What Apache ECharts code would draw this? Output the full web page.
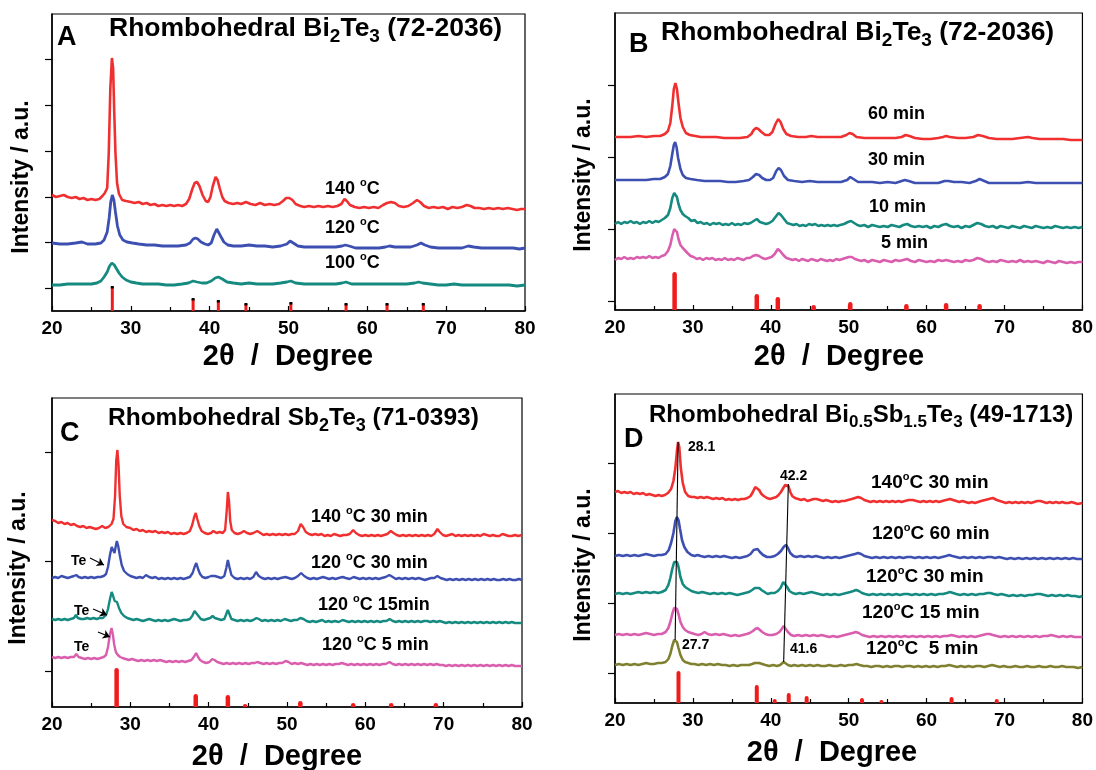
<!DOCTYPE html>
<html>
<head>
<meta charset="utf-8">
<script src="https://cdn.jsdelivr.net/npm/echarts@6/dist/echarts.min.js"></script>
<style>
html, body { margin: 0; background: #fff; }
#chart { width: 1096px; height: 770px; }
</style>
</head>
<body>
<div id="chart"></div>
<script>
// ---- Panel A: Bi2Te3 at 100/120/140 °C (intensity, a.u.) ----
const aRed = [[20,93],[20.5,91],[21,92],[21.5,93],[22,91],[22.5,90],[23,91],[23.5,89],[24,90],[24.5,88],[25,89],[25.5,88],[26,89],[26.4,92],[26.7,95],[27,100],[27.2,135],[27.4,200],[27.6,230],[27.75,220],[27.9,175],[28.05,135],[28.25,105],[28.5,94],[28.9,88],[29.4,87],[30,86],[30.5,85],[31,86],[31.5,84],[32,85],[32.5,83],[33,84],[33.5,82],[34,83],[34.5,82],[35,83],[35.5,82],[36,83],[36.5,82],[37,84],[37.4,89],[37.8,99],[38.1,105],[38.4,106],[38.7,102],[39.1,93],[39.5,87],[39.8,86],[40.1,91],[40.4,102],[40.75,111],[41,108],[41.3,99],[41.6,91],[41.9,87],[42.4,85],[43,84],[43.5,85],[44,84],[44.6,86],[45.2,84],[45.8,83],[46.4,85],[47,83],[47.6,84],[48.2,83],[48.8,84],[49.3,87],[49.7,90],[50.1,90],[50.5,88],[50.9,84],[51.5,82],[52,81],[52.6,82],[53.2,81],[53.8,82],[54.4,81],[55,82],[55.6,81],[56.2,82],[56.7,84],[57.1,89],[57.4,87],[57.8,83],[58.4,81],[59,80],[59.6,81],[60.2,80],[60.8,81],[61.4,80],[62,83],[62.5,85],[63,86],[63.5,85],[64,82],[64.6,81],[65.2,82],[65.8,85],[66.3,88],[66.7,86],[67.2,82],[67.8,80],[68.4,81],[69,80],[69.6,81],[70.2,79],[70.8,81],[71.4,80],[72,81],[72.6,83],[73.1,82],[73.6,80],[74.2,80],[74.8,79],[75.4,80],[76,79],[76.6,80],[77.2,79],[77.8,80],[78.4,79],[79,78],[79.5,79],[80,79]];
const aBlue = [[20,45],[21,44],[22,44],[23,45],[23.8,46],[24.5,44],[25.5,44],[26.2,45],[26.6,48],[27,56],[27.25,70],[27.45,86],[27.65,93],[27.85,88],[28.05,76],[28.3,62],[28.6,53],[29,48],[29.5,46],[30.2,45],[31,44],[32,43],[33,43],[34,42],[35,42],[36,42],[37,43],[37.5,45],[37.9,49],[38.2,50],[38.5,49],[38.9,46],[39.4,44],[39.8,43],[40.2,45],[40.55,53],[40.9,59],[41.15,57],[41.45,51],[41.8,46],[42.3,43],[43,42],[44,42],[45,43],[46,42],[47,42],[48,41],[49,42],[49.8,44],[50.2,47],[50.6,45],[51.2,42],[52,41],[53,41],[54,41],[55,41],[56,41],[56.8,42],[57.2,43],[57.7,42],[58.5,40],[59.5,40],[60.5,40],[61.5,40],[62.3,41],[62.8,42],[63.5,41],[64.5,41],[65.5,41],[66.3,43],[66.8,45],[67.3,43],[68,41],[69,40],[70,40],[71,40],[72,40],[72.8,42],[73.5,41],[74.5,40],[75.5,40],[76.5,40],[77.5,40],[78.5,40],[79.3,39],[80,40]];
const aTeal = [[20,3],[21,3],[22,4],[23,4],[24,4],[25,4],[25.7,5],[26.2,7],[26.6,11],[27,16],[27.3,22],[27.6,25],[27.9,23],[28.2,19],[28.5,15],[28.9,11],[29.4,8],[30,6],[30.7,5],[31.5,4],[32.5,4],[33.5,4],[34.5,3],[35.5,3],[36.5,4],[37.3,5],[37.9,7],[38.4,6],[39,5],[39.6,5],[40.2,7],[40.7,10],[41.1,11],[41.6,9],[42.2,6],[43,5],[44,4],[45,5],[46,4],[47,4],[48,4],[49,5],[49.8,6],[50.3,7],[50.9,5],[52,4],[53,4],[54,4],[55,4],[56,4],[56.8,5],[57.3,6],[58,4],[59,4],[60,4],[61,4],[62,4],[63,4],[64,4],[65,4],[66,5],[66.5,6],[67,5],[68,4],[69,3],[70,3],[71,4],[72,3],[73,3],[74,3],[75,3],[76,3],[77,3],[78,3],[79,2],[80,3]];
const aStickPos = [27.65, 37.9, 41.1, 44.6, 50.3, 57.3, 62.5, 67.1];
const aStickTop = [1, -11, -13, -16, -15, -16, -16, -16];

// ---- Panel B: Bi2Te3 for 5/10/30/60 min ----
const bRed = [[20,164],[21,164],[22,164],[23,165],[24,164],[25,165],[25.8,165],[26.4,167],[26.8,170],[27.1,178],[27.35,195],[27.55,212],[27.75,218],[27.95,212],[28.15,198],[28.4,183],[28.7,174],[29.1,168],[29.6,166],[30.3,165],[31,164],[32,164],[33,164],[34,163],[35,163],[36,163],[37,164],[37.5,167],[37.8,171],[38.1,173],[38.4,172],[38.8,169],[39.3,166],[39.8,166],[40.2,169],[40.6,177],[40.95,182],[41.25,179],[41.6,172],[42,167],[42.6,165],[43.5,164],[44.5,164],[45.2,165],[46,164],[47,164],[48,164],[49,164],[49.7,166],[50.1,168],[50.5,167],[51,164],[52,163],[53,163],[54,163],[55,163],[56,163],[56.8,164],[57.3,166],[57.8,165],[58.5,163],[59.5,162],[60.5,162],[61.5,163],[62.1,164],[62.5,165],[63,164],[64,163],[65,163],[66,164],[66.6,166],[67.2,165],[68,163],[69,162],[70,162],[71,162],[72,163],[73,164],[73.6,163],[74.5,162],[75.5,162],[76.5,162],[77.5,162],[78.5,161],[79.3,161],[80,161]];
const bBlue = [[20,121],[21,121],[22,121],[23,121],[24,121],[25,122],[25.8,122],[26.4,124],[26.8,127],[27.1,135],[27.35,147],[27.55,156],[27.72,159],[27.9,154],[28.1,143],[28.4,132],[28.7,126],[29.1,123],[29.7,122],[30.5,121],[31.5,120],[32.5,120],[33.5,120],[34.5,119],[35.5,119],[36.5,120],[37.2,121],[37.7,124],[38.1,127],[38.5,126],[38.9,123],[39.4,121],[39.9,121],[40.3,123],[40.7,130],[41,133],[41.3,131],[41.7,125],[42.2,121],[43,120],[44,119],[45,120],[46,119],[47,119],[48,119],[49,119],[49.8,121],[50.2,124],[50.6,122],[51.2,119],[52,119],[53,119],[54,118],[55,119],[56,118],[56.8,120],[57.2,121],[57.7,120],[58.5,118],[59.5,118],[60.5,118],[61.5,118],[62.3,120],[62.8,120],[63.5,119],[64.5,119],[65.5,118],[66.3,120],[66.8,122],[67.4,120],[68,118],[69,118],[70,118],[71,118],[72,118],[73,119],[74,118],[75,118],[76,118],[77,118],[78,118],[79,118],[80,118]];
const bTeal = [[20,77],[20.4,79],[20.8,77],[21.2,79],[21.6,78],[22,80],[22.4,78],[22.8,79],[23.2,77],[23.6,79],[24,78],[24.4,80],[24.8,78],[25.2,80],[25.6,79],[26,81],[26.4,83],[26.8,86],[27.1,93],[27.35,103],[27.6,108],[27.78,109],[27.95,104],[28.15,97],[28.4,91],[28.7,87],[29,85],[29.4,83],[29.8,80],[30.2,81],[30.6,78],[31,79],[31.4,77],[31.8,78],[32.2,76],[32.6,78],[33,77],[33.4,78],[33.8,76],[34.2,77],[34.6,76],[35,78],[35.4,76],[35.8,77],[36.2,76],[36.6,78],[37,77],[37.4,78],[37.8,80],[38.2,82],[38.6,79],[39,78],[39.4,77],[39.8,78],[40.2,80],[40.6,84],[41,88],[41.3,86],[41.7,82],[42.1,78],[42.5,77],[42.9,76],[43.3,77],[43.7,75],[44.1,76],[44.5,75],[44.9,77],[45.3,76],[45.7,77],[46.1,75],[46.5,76],[46.9,75],[47.3,76],[47.7,75],[48.1,76],[48.5,75],[48.9,76],[49.4,77],[49.9,79],[50.3,80],[50.7,78],[51.1,76],[51.5,75],[52,76],[52.5,74],[53,76],[53.5,75],[54,74],[54.5,75],[55,74],[55.5,76],[56,75],[56.5,74],[57,76],[57.5,77],[58,75],[58.5,74],[59,75],[59.5,74],[60,75],[60.5,73],[61,75],[61.5,74],[62,76],[62.5,77],[63,75],[63.5,74],[64,75],[64.5,73],[65,75],[65.5,74],[66,76],[66.5,78],[67,77],[67.5,75],[68,74],[68.5,75],[69,73],[69.5,75],[70,74],[70.5,73],[71,75],[71.5,74],[72,73],[72.5,75],[73,74],[73.5,73],[74,75],[74.5,74],[75,73],[75.5,74],[76,73],[76.5,75],[77,74],[77.5,73],[78,74],[78.5,73],[79,74],[79.5,73],[80,74]];
const bPink = [[20,41],[20.4,43],[20.8,42],[21.2,44],[21.6,42],[22,43],[22.4,42],[22.8,44],[23.2,43],[23.6,44],[24,43],[24.4,45],[24.8,43],[25.2,44],[25.6,43],[26,45],[26.4,46],[26.8,50],[27.1,56],[27.35,65],[27.6,72],[27.78,73],[27.95,69],[28.15,62],[28.4,56],[28.7,53],[28.95,52],[29.3,48],[29.7,45],[30.1,44],[30.5,42],[30.9,43],[31.3,41],[31.7,43],[32.1,42],[32.5,43],[32.9,41],[33.3,42],[33.7,41],[34.1,43],[34.5,41],[34.9,42],[35.3,41],[35.7,43],[36.1,42],[36.5,41],[36.9,43],[37.3,43],[37.7,45],[38.1,46],[38.5,45],[38.9,43],[39.3,42],[39.7,43],[40.1,44],[40.5,47],[40.9,52],[41.2,50],[41.6,46],[42,43],[42.4,42],[42.8,41],[43.2,42],[43.6,40],[44,42],[44.4,41],[44.8,40],[45.2,42],[45.6,41],[46,40],[46.4,42],[46.8,41],[47.2,40],[47.6,41],[48,40],[48.4,42],[48.8,41],[49.2,42],[49.6,43],[50,44],[50.4,44],[50.8,42],[51.2,41],[51.6,40],[52,41],[52.5,39],[53,41],[53.5,40],[54,39],[54.5,41],[55,40],[55.5,39],[56,41],[56.5,40],[57,41],[57.5,42],[58,40],[58.5,39],[59,41],[59.5,40],[60,39],[60.5,40],[61,39],[61.5,41],[62,40],[62.5,41],[63,40],[63.5,39],[64,40],[64.5,39],[65,41],[65.5,40],[66,41],[66.5,43],[67,42],[67.5,40],[68,39],[68.5,40],[69,39],[69.5,41],[70,40],[70.5,39],[71,40],[71.5,39],[72,41],[72.5,39],[73,40],[73.5,39],[74,40],[74.5,39],[75,38],[75.5,40],[76,39],[76.5,38],[77,40],[77.5,39],[78,38],[78.5,39],[79,38],[79.5,39],[80,39]];
const bStickPos = [27.65, 38.2, 40.9, 45.5, 50.2, 57.4, 62.5, 66.8];
const bStickTop = [29, 7, 4, -4, -1, -3, -2, -3];

// ---- Panel C: Sb2Te3 ----
const cRed = [[20,151],[20.4,150],[20.8,148],[21.2,149],[21.6,147],[22,148],[22.4,146],[22.8,147],[23.2,145],[23.6,144],[24,145],[24.4,143],[24.8,144],[25.2,143],[25.6,142],[26,143],[26.4,145],[26.8,143],[27.2,144],[27.6,147],[27.85,152],[28.05,175],[28.2,210],[28.35,221],[28.5,205],[28.65,175],[28.85,155],[29.1,147],[29.5,144],[30,143],[30.4,141],[30.8,142],[31.2,140],[31.6,141],[32,139],[32.4,140],[32.8,139],[33.2,140],[33.6,138],[34,139],[34.4,138],[34.8,139],[35.2,137],[35.6,138],[36,137],[36.4,138],[36.8,137],[37.2,138],[37.6,140],[37.9,146],[38.15,154],[38.35,158],[38.55,152],[38.8,145],[39.1,140],[39.5,138],[39.9,137],[40.3,138],[40.6,140],[41,138],[41.4,139],[41.8,138],[42.1,141],[42.3,160],[42.45,179],[42.6,170],[42.75,150],[42.95,141],[43.3,138],[43.7,137],[44.1,138],[44.5,140],[44.9,138],[45.3,137],[45.7,138],[46.2,140],[46.6,138],[47,136],[47.4,137],[47.8,136],[48.2,137],[48.6,136],[49,137],[49.4,136],[49.8,137],[50.2,136],[50.6,137],[51,137],[51.4,140],[51.75,147],[52.05,144],[52.4,139],[52.8,137],[53.2,136],[53.6,137],[54,136],[54.4,137],[54.8,135],[55.2,136],[55.6,135],[56,137],[56.4,136],[56.8,135],[57.2,136],[57.6,136],[58,137],[58.45,141],[58.8,138],[59.2,136],[59.6,135],[60,136],[60.4,135],[60.8,136],[61.2,135],[61.6,136],[62,135],[62.4,136],[62.8,137],[63.25,140],[63.6,138],[64,136],[64.4,135],[64.8,136],[65.2,135],[65.6,136],[66,135],[66.4,136],[66.8,135],[67.2,136],[67.6,135],[68,136],[68.4,135],[68.8,137],[69.2,142],[69.5,139],[69.9,136],[70.3,135],[70.7,136],[71.1,137],[71.5,135],[71.9,136],[72.3,135],[72.7,136],[73.1,135],[73.5,136],[73.9,135],[74.3,136],[74.7,135],[75.1,137],[75.5,136],[75.9,135],[76.3,136],[76.7,135],[77.1,135],[77.5,137],[77.9,136],[78.3,135],[78.7,135],[79.1,136],[79.5,135],[80,136]];
const cBlue = [[20,93],[20.4,94],[20.8,93],[21.2,95],[21.6,94],[22,93],[22.4,94],[22.8,95],[23.1,96],[23.4,94],[23.8,93],[24.2,94],[24.6,93],[25,94],[25.4,93],[25.8,94],[26.2,94],[26.6,95],[26.9,97],[27.15,104],[27.4,116],[27.62,124],[27.8,121],[27.98,118],[28.12,124],[28.28,130],[28.45,125],[28.65,116],[28.9,106],[29.2,100],[29.6,97],[30,95],[30.4,94],[30.8,93],[31.2,94],[31.6,93],[32,96],[32.4,94],[32.8,93],[33.2,94],[33.6,92],[34,93],[34.4,92],[34.8,93],[35.2,92],[35.6,93],[36,92],[36.4,93],[36.8,92],[37.2,93],[37.6,94],[37.95,98],[38.2,104],[38.42,108],[38.65,102],[38.9,97],[39.2,94],[39.6,93],[40,94],[40.3,95],[40.55,97],[40.8,95],[41.2,94],[41.6,93],[42,95],[42.25,103],[42.45,111],[42.65,104],[42.9,96],[43.3,93],[43.7,92],[44.1,93],[44.5,92],[44.9,93],[45.3,92],[45.7,94],[46.05,99],[46.4,95],[46.8,93],[47.2,92],[47.6,93],[48,92],[48.4,93],[48.8,92],[49.2,93],[49.8,94],[50.2,93],[50.6,92],[51,93],[51.4,95],[51.8,98],[52.2,95],[52.6,93],[53,92],[53.4,93],[53.8,92],[54.2,93],[54.6,94],[55,93],[55.4,92],[55.8,93],[56.2,92],[56.6,93],[57.1,94],[57.5,93],[58,92],[58.5,94],[58.9,93],[59.3,92],[59.7,93],[60.1,92],[60.5,93],[60.9,92],[61.3,93],[61.7,92],[62.1,93],[62.6,94],[63.07,96],[63.5,94],[63.9,92],[64.3,93],[64.7,92],[65.1,93],[65.5,92],[66,93],[66.4,92],[66.8,93],[67.2,92],[67.6,91],[68,92],[68.4,93],[68.8,93],[69.2,95],[69.6,93],[70,92],[70.4,91],[70.8,92],[71.2,91],[71.6,92],[72,91],[72.4,92],[72.8,91],[73.2,92],[73.6,91],[74,92],[74.4,91],[74.8,92],[75.2,91],[75.6,92],[76,91],[76.4,92],[76.8,91],[77.2,91],[77.6,92],[78,91],[78.4,92],[78.8,91],[79.2,91],[79.6,92],[80,91]];
const cTeal = [[20,52],[20.4,51],[20.8,52],[21.2,51],[21.6,52],[22,51],[22.4,52],[22.8,53],[23.05,56],[23.3,53],[23.7,52],[24.1,52],[24.5,53],[24.9,52],[25.3,53],[25.7,52],[26.1,53],[26.5,53],[26.9,56],[27.15,62],[27.4,72],[27.62,79],[27.8,75],[28,70],[28.15,71],[28.3,69],[28.55,63],[28.85,58],[29.2,55],[29.6,53],[30,52],[30.4,51],[30.8,52],[31.2,51],[31.6,50],[32,51],[32.4,52],[32.8,51],[33.2,50],[33.6,51],[34,50],[34.4,51],[34.8,50],[35.2,51],[35.6,52],[36,51],[36.4,50],[36.8,51],[37.2,51],[37.6,52],[37.9,55],[38.2,60],[38.4,59],[38.7,55],[39,52],[39.4,51],[39.8,52],[40.2,53],[40.5,55],[40.8,53],[41.2,52],[41.6,51],[42,52],[42.25,57],[42.45,61],[42.65,57],[42.9,52],[43.3,51],[43.7,50],[44.1,51],[44.5,50],[44.9,51],[45.3,50],[45.7,51],[46.1,53],[46.4,52],[46.8,50],[47.2,51],[47.6,50],[48,51],[48.4,50],[48.8,51],[49.2,50],[49.7,52],[50.1,51],[50.5,50],[50.9,51],[51.3,51],[51.7,53],[52.1,52],[52.5,50],[52.9,49],[53.3,50],[53.7,49],[54.1,50],[54.5,51],[54.9,49],[55.3,50],[55.7,49],[56.1,50],[56.6,49],[57.1,51],[57.5,50],[57.9,49],[58.3,50],[58.7,49],[59.1,50],[59.5,49],[59.9,50],[60.3,49],[60.7,50],[61.1,49],[61.5,50],[61.9,49],[62.3,50],[62.7,50],[63.1,52],[63.5,50],[63.9,49],[64.3,50],[64.7,49],[65.1,50],[65.5,49],[65.9,50],[66.3,49],[66.7,50],[67.1,49],[67.5,50],[67.9,50],[68.3,49],[68.7,50],[69.1,49],[69.5,50],[69.9,49],[70.3,48],[70.7,49],[71.1,48],[71.5,49],[71.9,48],[72.3,49],[72.7,48],[73.1,49],[73.5,48],[73.9,49],[74.3,48],[74.7,49],[75.1,48],[75.5,49],[75.9,48],[76.3,49],[76.7,48],[77.1,49],[77.5,48],[77.9,49],[78.3,48],[78.7,49],[79.1,48],[79.5,48],[80,48]];
const cPink = [[20,14],[20.4,13],[20.8,14],[21.2,13],[21.6,14],[22,13],[22.4,14],[22.8,14],[23.1,17],[23.4,14],[23.8,13],[24.2,12],[24.6,13],[25,12],[25.4,13],[25.8,12],[26.2,13],[26.6,14],[26.9,16],[27.15,24],[27.4,37],[27.6,43],[27.78,36],[27.95,26],[28.15,19],[28.4,16],[28.7,14],[29,13],[29.4,12],[29.8,11],[30.2,12],[30.6,11],[31,10],[31.4,11],[31.8,10],[32.2,11],[32.6,10],[33,11],[33.4,10],[33.8,11],[34.2,10],[34.6,9],[35,10],[35.4,9],[35.8,10],[36.2,9],[36.6,10],[37,9],[37.4,10],[37.8,11],[38.1,14],[38.4,18],[38.65,14],[38.9,11],[39.3,9],[39.7,8],[40.1,9],[40.45,12],[40.75,11],[41.1,9],[41.5,8],[41.9,7],[42.3,8],[42.7,7],[43.1,8],[43.5,7],[43.9,8],[44.3,7],[44.7,8],[45.1,7],[45.5,8],[45.9,8],[46.2,9],[46.6,8],[47,7],[47.4,8],[47.8,7],[48.2,8],[48.6,7],[49,8],[49.4,8],[49.8,10],[50.2,9],[50.6,7],[51,8],[51.4,7],[51.8,8],[52.2,7],[52.6,6],[53,7],[53.4,6],[53.8,7],[54.2,6],[54.6,7],[55,6],[55.4,7],[55.8,6],[56.2,7],[56.6,7],[57,8],[57.4,7],[57.8,6],[58.2,7],[58.6,6],[59,7],[59.4,6],[59.8,7],[60.2,6],[60.6,7],[61,6],[61.4,7],[61.8,6],[62.2,7],[62.6,7],[63.1,9],[63.5,7],[63.9,6],[64.3,7],[64.7,6],[65.1,7],[65.5,6],[65.9,7],[66.3,6],[66.7,7],[67.1,6],[67.5,7],[67.9,6],[68.3,7],[68.7,6],[69.1,7],[69.5,6],[69.9,6],[70.3,5],[70.7,6],[71.1,5],[71.5,6],[71.9,5],[72.3,6],[72.7,5],[73.1,6],[73.5,5],[73.9,6],[74.3,5],[74.7,6],[75.1,5],[75.5,6],[75.9,5],[76.3,6],[76.7,5],[77.1,6],[77.5,5],[77.9,6],[78.3,5],[78.7,6],[79.1,5],[79.5,5],[80,5]];
const cStickPos = [28.25, 38.35, 42.45, 44.65, 51.7, 58.45, 63.3, 69.0];
const cStickTop = [3, -23, -24, -33, -30, -32, -32, -32];

// ---- Panel D: Bi0.5Sb1.5Te3 ----
const dRed = [[20,181],[20.4,182],[20.8,180],[21.2,181],[21.6,180],[22,181],[22.4,179],[22.8,180],[23.2,179],[23.6,180],[24,178],[24.4,179],[24.8,178],[25.2,177],[25.6,178],[26,177],[26.4,178],[26.8,180],[27.2,184],[27.5,192],[27.75,205],[27.95,222],[28.1,231],[28.25,226],[28.45,205],[28.7,190],[29,181],[29.4,177],[29.8,176],[30.2,176],[30.6,175],[31,176],[31.4,175],[31.8,176],[32.2,175],[32.6,174],[33,175],[33.4,174],[33.8,175],[34.2,173],[34.6,174],[35,173],[35.4,174],[35.8,173],[36.2,174],[36.6,174],[37,175],[37.4,177],[37.7,181],[38,186],[38.2,186],[38.5,183],[38.8,179],[39.1,177],[39.5,175],[39.9,174],[40.3,175],[40.7,176],[41,178],[41.3,181],[41.6,185],[41.85,188],[42.05,189],[42.25,187],[42.5,181],[42.75,177],[43.1,175],[43.5,174],[43.9,173],[44.3,174],[44.7,172],[45.1,173],[45.5,174],[45.9,174],[46.3,173],[46.7,172],[47.1,173],[47.5,172],[47.9,171],[48.3,172],[48.7,171],[49.1,172],[49.5,172],[49.9,173],[50.4,174],[50.8,175],[51.2,176],[51.6,175],[52,173],[52.4,172],[52.8,171],[53.2,172],[53.6,171],[54,172],[54.4,171],[54.8,172],[55.2,171],[55.6,172],[56,171],[56.4,172],[56.8,171],[57.2,172],[57.7,173],[58.2,173],[58.7,172],[59.2,171],[59.6,172],[60,171],[60.4,172],[60.8,171],[61.2,172],[61.6,171],[62,172],[62.5,173],[63,174],[63.4,173],[63.8,172],[64.2,171],[64.6,172],[65,171],[65.4,170],[65.8,171],[66.2,170],[66.6,171],[67,172],[67.5,173],[68,174],[68.5,175],[69,173],[69.4,172],[69.8,171],[70.2,170],[70.6,171],[71,170],[71.4,171],[71.8,170],[72.2,171],[72.6,170],[73,171],[73.4,170],[73.8,171],[74.2,172],[74.6,172],[75,171],[75.4,170],[75.8,171],[76.2,170],[76.6,171],[77,170],[77.4,171],[77.8,170],[78.2,170],[78.6,171],[79,170],[79.4,169],[80,170]];
const dBlue = [[20,117],[20.5,118],[21,117],[21.5,118],[22,117],[22.5,118],[23,117],[23.5,118],[24,119],[24.5,118],[25,117],[25.5,118],[26,118],[26.5,119],[26.9,123],[27.2,130],[27.5,140],[27.75,152],[27.95,156],[28.15,153],[28.35,144],[28.6,133],[28.9,126],[29.3,121],[29.8,118],[30.2,117],[30.6,118],[31,117],[31.5,116],[32,117],[32.5,116],[33,117],[33.5,116],[34,117],[34.5,116],[35,115],[35.5,116],[36,115],[36.5,116],[37,117],[37.4,119],[37.8,123],[38.05,125],[38.3,124],[38.6,121],[39,118],[39.5,116],[40,116],[40.5,117],[40.9,119],[41.3,122],[41.65,126],[41.95,128],[42.2,125],[42.5,120],[42.9,117],[43.3,116],[43.8,117],[44.3,116],[44.8,117],[45.3,116],[45.8,117],[46.3,116],[46.8,115],[47.3,116],[47.8,115],[48.3,116],[48.8,115],[49.3,116],[49.8,117],[50.3,118],[50.8,119],[51.2,120],[51.6,119],[52,117],[52.5,116],[53,115],[53.5,116],[54,115],[54.5,116],[55,115],[55.5,116],[56,115],[56.5,116],[57,115],[57.5,116],[58,116],[58.5,115],[59,116],[59.5,115],[60,116],[60.5,115],[61,116],[61.5,115],[62,116],[62.5,117],[62.9,118],[63.3,117],[63.8,116],[64.3,115],[64.8,116],[65.3,115],[65.8,116],[66.3,115],[66.8,116],[67.3,115],[67.8,116],[68.3,116],[68.8,115],[69.3,116],[69.8,115],[70.3,114],[70.8,115],[71.3,114],[71.8,115],[72.3,114],[72.8,115],[73.3,114],[73.8,115],[74.3,114],[74.8,115],[75.3,114],[75.8,115],[76.3,114],[76.8,115],[77.3,114],[77.8,115],[78.3,114],[78.8,115],[79.3,114],[80,114]];
const dTeal = [[20,79],[20.5,80],[21,79],[21.5,80],[22,79],[22.5,80],[23,81],[23.5,80],[24,81],[24.5,80],[25,81],[25.5,80],[26,81],[26.5,83],[26.85,88],[27.1,95],[27.35,104],[27.6,111],[27.78,113],[27.95,111],[28.15,106],[28.4,96],[28.7,89],[29,86],[29.4,84],[29.8,82],[30.2,81],[30.7,80],[31.2,81],[31.7,80],[32.2,79],[32.7,80],[33.2,79],[33.7,80],[34.2,79],[34.7,80],[35.2,79],[35.7,78],[36.2,79],[36.7,80],[37.2,81],[37.6,83],[37.95,85],[38.2,86],[38.5,85],[38.8,83],[39.2,81],[39.6,79],[40,80],[40.5,80],[40.9,82],[41.25,85],[41.6,91],[41.85,89],[42.1,86],[42.4,82],[42.8,80],[43.2,79],[43.7,80],[44.2,79],[44.7,80],[45.2,81],[45.7,80],[46.2,79],[46.7,78],[47.2,79],[47.7,78],[48.2,79],[48.7,78],[49.2,79],[49.7,80],[50.2,81],[50.6,82],[50.95,83],[51.3,82],[51.7,80],[52.1,79],[52.6,78],[53.1,79],[53.6,78],[54.1,79],[54.6,78],[55.1,79],[55.6,78],[56.1,79],[56.6,78],[57.1,79],[57.6,79],[58.1,78],[58.6,79],[59.1,78],[59.6,79],[60.1,78],[60.6,79],[61.1,78],[61.6,79],[62.1,79],[62.6,80],[63,81],[63.4,80],[63.8,79],[64.3,78],[64.8,79],[65.3,78],[65.8,79],[66.3,78],[66.8,79],[67.3,79],[67.8,80],[68.2,80],[68.6,79],[69.1,78],[69.6,79],[70.1,78],[70.6,77],[71.1,78],[71.6,77],[72.1,78],[72.6,77],[73.1,78],[73.6,78],[74.1,79],[74.6,79],[75.1,78],[75.6,77],[76.1,78],[76.6,77],[77.1,78],[77.6,77],[78.1,78],[78.6,77],[79.1,77],[79.6,76],[80,77]];
const dPink = [[20,38],[20.5,39],[21,38],[21.5,39],[22,38],[22.5,39],[23,38],[23.5,39],[24,40],[24.5,39],[25,38],[25.5,39],[26,39],[26.5,41],[26.85,45],[27.1,51],[27.35,59],[27.6,65],[27.78,66],[27.95,64],[28.15,59],[28.4,51],[28.7,46],[29,43],[29.4,41],[29.8,40],[30.2,39],[30.7,38],[31.1,39],[31.5,41],[31.9,39],[32.4,38],[32.9,39],[33.4,38],[33.9,39],[34.4,38],[34.9,37],[35.4,38],[35.9,37],[36.4,38],[36.9,39],[37.3,40],[37.7,42],[38,44],[38.3,45],[38.6,43],[38.9,41],[39.3,39],[39.7,38],[40.2,38],[40.7,39],[41.1,41],[41.4,44],[41.65,47],[41.9,45],[42.2,41],[42.6,38],[43,37],[43.5,38],[44,37],[44.5,38],[45,37],[45.5,38],[46,37],[46.5,38],[47,37],[47.5,36],[48,37],[48.5,36],[49,37],[49.5,38],[50,39],[50.5,40],[50.9,41],[51.3,40],[51.7,38],[52.2,37],[52.7,36],[53.2,37],[53.7,36],[54.2,37],[54.7,36],[55.2,37],[55.7,36],[56.2,37],[56.7,36],[57.2,37],[57.7,36],[58.2,37],[58.7,36],[59.2,37],[59.7,36],[60.2,37],[60.7,36],[61.2,37],[61.7,36],[62.2,37],[62.7,37],[63.2,38],[63.7,37],[64.2,36],[64.7,37],[65.2,36],[65.7,37],[66.2,36],[66.7,37],[67.2,38],[67.7,39],[68.1,39],[68.5,38],[69,37],[69.5,36],[70,37],[70.5,36],[71,37],[71.5,36],[72,37],[72.5,36],[73,37],[73.5,36],[74,37],[74.5,36],[75,37],[75.5,37],[76,38],[76.5,37],[77,36],[77.5,37],[78,36],[78.5,37],[79,36],[79.5,36],[80,36]];
const dOlive = [[20,8],[20.5,9],[21,8],[21.5,9],[22,8],[22.5,9],[23,8],[23.5,9],[24,10],[24.5,9],[25,9],[25.5,10],[26,10],[26.5,11],[26.85,14],[27.1,19],[27.35,27],[27.6,33],[27.75,35],[27.95,31],[28.15,25],[28.4,18],[28.7,13],[29,11],[29.4,10],[29.8,9],[30.2,9],[30.7,8],[31.2,9],[31.7,8],[32.2,9],[32.7,8],[33.2,9],[33.7,8],[34.2,8],[34.7,7],[35.2,8],[35.7,7],[36.2,8],[36.7,8],[37.2,8],[37.6,9],[37.95,10],[38.2,11],[38.5,10],[38.9,9],[39.3,8],[39.8,7],[40.3,8],[40.8,7],[41.2,8],[41.45,10],[41.65,11],[41.9,9],[42.2,8],[42.6,7],[43,8],[43.5,7],[44,8],[44.5,7],[45,8],[45.5,7],[46,8],[46.5,7],[47,7],[47.5,8],[48,7],[48.5,7],[49,8],[49.5,7],[50,8],[50.5,8],[51,9],[51.4,8],[51.9,7],[52.4,7],[52.9,6],[53.4,7],[53.9,7],[54.4,6],[54.9,7],[55.4,6],[55.9,7],[56.4,7],[56.9,6],[57.4,7],[57.9,7],[58.4,6],[58.9,7],[59.4,6],[59.9,7],[60.4,6],[60.9,7],[61.4,6],[61.9,7],[62.4,7],[62.9,8],[63.4,7],[63.9,6],[64.4,7],[64.9,6],[65.4,7],[65.9,6],[66.4,7],[66.9,7],[67.4,6],[67.9,7],[68.4,8],[68.9,7],[69.4,6],[69.9,7],[70.4,6],[70.9,6],[71.4,7],[71.9,6],[72.4,6],[72.9,7],[73.4,6],[73.9,6],[74.4,7],[74.9,6],[75.4,6],[75.9,7],[76.4,6],[76.9,6],[77.4,7],[77.9,6],[78.4,6],[78.9,6],[79.4,5],[80,6]];
const dStickPos = [28.15, 38.2, 40.5, 42.3, 44.6, 51.7, 54.2, 63.2, 69.0];
const dStickTop = [2, -12, -26, -20, -23, -25, -27, -24, -26];

// peak-shift guide lines in D: [28.1 -> 27.7] and [42.2 -> 41.6]
const dShiftLines = [[[28.1, 231], [27.72, 33]], [[42.25, 189], [41.65, 11]]];
// Te arrows in C (from, to)
const cTeArrows = [[[24.85, 113], [26.64, 106]], [[25.24, 62], [27.02, 56]], [[25.87, 39], [27.4, 34]]];

// y tick values (a.u.) per panel
const aTicks = [0, 46, 91, 137, 183, 229];
const bTicks = [0, 72, 144, 216];
const cTicks = [0, 110, 219];
const dTicks = [0, 70, 140, 210];

const FONT = '"Liberation Sans", Arial, sans-serif';
const RED = '#f03030', BLUE = '#3d50b2', TEAL = '#148a80', PINK = '#d95eae', OLIVE = '#7f8030';
const STICK = '#f01c1c';

const grids = [
  {left: 52, top: 14, width: 473, height: 297},
  {left: 615, top: 13, width: 469, height: 297},
  {left: 52, top: 398, width: 470, height: 309},
  {left: 615, top: 394, width: 469, height: 309}
];
const yRanges = [[-23, 274], [-9, 288], [-36, 273], [-30, 279]];
const yTicks = [aTicks, bTicks, cTicks, dTicks];

function xAxisFor(gi) {
  return {
    type: 'value', gridIndex: gi, min: 20, max: 80, interval: 10,
    axisLine: {show: true, onZero: false, lineStyle: {color: '#000', width: 1.5}},
    axisTick: {show: true, inside: true, length: 5, lineStyle: {color: '#000', width: 1.2}},
    minorTick: {show: true, splitNumber: 2, length: 4, lineStyle: {color: '#000', width: 1.2}},
    axisLabel: {color: '#000', fontSize: 19, fontWeight: 'bold', fontFamily: FONT, margin: 8},
    splitLine: {show: false}
  };
}

function yAxisFor(gi) {
  return {
    type: 'value', gridIndex: gi, min: yRanges[gi][0], max: yRanges[gi][1],
    axisLine: {show: true, onZero: false, lineStyle: {color: '#000', width: 1.5}},
    axisTick: {show: true, inside: false, length: 7, customValues: yTicks[gi], lineStyle: {color: '#000', width: 1.2}},
    axisLabel: {show: false},
    splitLine: {show: false}
  };
}

function curve(gi, data, color, width, extra) {
  return Object.assign({
    type: 'line', xAxisIndex: gi, yAxisIndex: gi, data: data,
    showSymbol: false, symbol: 'none', silent: true, z: 3,
    lineStyle: {color: color, width: width}, itemStyle: {color: color}
  }, extra || {});
}

function sticks(gi, pos, top, w, cap) {
  const base = yRanges[gi][0];
  return {
    type: 'custom', xAxisIndex: gi, yAxisIndex: gi, silent: true, z: 2,
    data: pos.map((p, i) => [p, top[i]]),
    encode: {x: 0, y: 1},
    renderItem: (params, api) => {
      const b = api.coord([api.value(0), base]);
      const t = api.coord([api.value(0), api.value(1)]);
      const children = [{
        type: 'rect',
        shape: {x: b[0] - w / 2, y: t[1], width: w, height: b[1] - t[1], r: cap ? 0 : [w / 2, w / 2, 0, 0]},
        style: {fill: STICK}
      }];
      if (cap) {
        children.push({type: 'rect', shape: {x: b[0] - w / 2, y: t[1] - 1, width: w, height: 2.5}, style: {fill: '#000'}});
      }
      return {type: 'group', children: children};
    }
  };
}

function lineMark(pairs, arrow) {
  return {
    silent: true,
    symbol: arrow ? ['none', 'arrow'] : ['none', 'none'],
    symbolSize: 7,
    label: {show: false},
    lineStyle: {color: '#000', width: 1.1, type: 'solid'},
    data: pairs.map(p => [{coord: p[0]}, {coord: p[1]}])
  };
}

// text helpers
function txt(x, y, text, size, align) {
  return {
    type: 'text', x: x, y: y, silent: true,
    style: {text: text, fill: '#000', font: 'bold ' + size + 'px ' + FONT, align: align || 'left', verticalAlign: 'middle'}
  };
}
function richTxt(x, y, text, size, subSize, lh, sup) {
  return {
    type: 'text', x: x, y: y, silent: true,
    style: {
      text: text, fill: '#000', align: 'left', verticalAlign: 'middle',
      rich: {
        a: {fontSize: size, fontWeight: 'bold', fontFamily: FONT, lineHeight: lh, fill: '#000'},
        s: {fontSize: subSize, fontWeight: 'bold', fontFamily: FONT, lineHeight: subSize, verticalAlign: sup ? 'top' : 'bottom', fill: '#000'}
      }
    }
  };
}

const graphics = [
  txt(57, 38, 'A', 27), txt(629, 45, 'B', 27), txt(60, 434, 'C', 27), txt(624, 440, 'D', 27),
  richTxt(109, 29, '{a|Rhombohedral Bi}{s|2}{a|Te}{s|3}{a| (72-2036)}', 26.5, 19, 34),
  richTxt(661, 33, '{a|Rhombohedral Bi}{s|2}{a|Te}{s|3}{a| (72-2036)}', 26.5, 19, 34),
  richTxt(108, 418, '{a|Rhombohedral Sb}{s|2}{a|Te}{s|3}{a| (71-0393)}', 24.5, 18, 34),
  richTxt(649, 415, '{a|Rhombohedral Bi}{s|0.5}{a|Sb}{s|1.5}{a|Te}{s|3}{a| (49-1713)}', 24, 17, 32),
  // curve labels
  richTxt(325, 189, '{a|140 }{s|o}{a|C}', 18, 11, 24, true),
  richTxt(325, 228, '{a|120 }{s|o}{a|C}', 18, 11, 24, true),
  richTxt(325, 263, '{a|100 }{s|o}{a|C}', 18, 11, 24, true),
  txt(868, 114, '60 min', 18), txt(868, 160, '30 min', 18), txt(869, 207, '10 min', 18), txt(881, 243, '5 min', 18),
  richTxt(311, 517, '{a|140 }{s|o}{a|C 30 min}', 18, 11, 24, true),
  richTxt(311, 563, '{a|120 }{s|o}{a|C 30 min}', 18, 11, 24, true),
  richTxt(318, 605, '{a|120 }{s|o}{a|C 15min}', 18, 11, 24, true),
  richTxt(322, 645, '{a|120 }{s|o}{a|C 5 min}', 18, 11, 24, true),
  txt(71, 561, 'Te', 14), txt(74, 611, 'Te', 14), txt(74, 647, 'Te', 14),
  richTxt(871, 483, '{a|140}{s|o}{a|C 30 min}', 19, 11, 24, true),
  richTxt(872, 534, '{a|120}{s|o}{a|C 60 min}', 19, 11, 24, true),
  richTxt(866, 577, '{a|120}{s|o}{a|C 30 min}', 19, 11, 24, true),
  richTxt(862, 613, '{a|120}{s|o}{a|C 15 min}', 19, 11, 24, true),
  richTxt(866, 649, '{a|120}{s|o}{a|C  5 min}', 19, 11, 24, true),
  txt(688, 447, '28.1', 14), txt(780, 476, '42.2', 14), txt(682, 645, '27.7', 14), txt(790, 649, '41.6', 14),
  // axis names
  txt(288, 357, '2θ  /  Degree', 29, 'center'),
  txt(839, 357, '2θ  /  Degree', 29, 'center'),
  txt(277, 757, '2θ  /  Degree', 29, 'center'),
  txt(832, 753, '2θ  /  Degree', 29, 'center')
];
[[22, 177], [584, 175], [19, 568], [584, 565]].forEach(p => {
  graphics.push({
    type: 'text', x: p[0], y: p[1], rotation: Math.PI / 2, silent: true,
    style: {text: 'Intensity / a.u.', fill: '#000', font: 'bold 23px ' + FONT, align: 'center', verticalAlign: 'middle'}
  });
});

const option = {
  animation: false,
  backgroundColor: '#fff',
  grid: grids.map(g => Object.assign({show: true, borderColor: '#000', borderWidth: 1.2, containLabel: false}, g)),
  xAxis: [0, 1, 2, 3].map(xAxisFor),
  yAxis: [0, 1, 2, 3].map(yAxisFor),
  series: [
    sticks(0, aStickPos, aStickTop, 3, true),
    curve(0, aTeal, TEAL, 2.8), curve(0, aBlue, BLUE, 2.8), curve(0, aRed, RED, 2.6),
    sticks(1, bStickPos, bStickTop, 4.5, false),
    curve(1, bPink, PINK, 2.6), curve(1, bTeal, TEAL, 2.6), curve(1, bBlue, BLUE, 2.6), curve(1, bRed, RED, 2.6),
    sticks(2, cStickPos, cStickTop, 4.5, false),
    curve(2, cPink, PINK, 2.4, {markLine: lineMark(cTeArrows.slice(2), true)}),
    curve(2, cTeal, TEAL, 2.4, {markLine: lineMark(cTeArrows.slice(1, 2), true)}),
    curve(2, cBlue, BLUE, 2.4, {markLine: lineMark(cTeArrows.slice(0, 1), true)}),
    curve(2, cRed, RED, 2.4),
    sticks(3, dStickPos, dStickTop, 4, false),
    curve(3, dOlive, OLIVE, 2.6), curve(3, dPink, PINK, 2.6), curve(3, dTeal, TEAL, 2.6), curve(3, dBlue, BLUE, 2.6),
    curve(3, dRed, RED, 2.6, {markLine: lineMark(dShiftLines, false)})
  ],
  graphic: graphics
};

const chart = echarts.init(document.getElementById('chart'), null, {renderer: 'canvas'});
chart.setOption(option);
</script>
</body>
</html>
